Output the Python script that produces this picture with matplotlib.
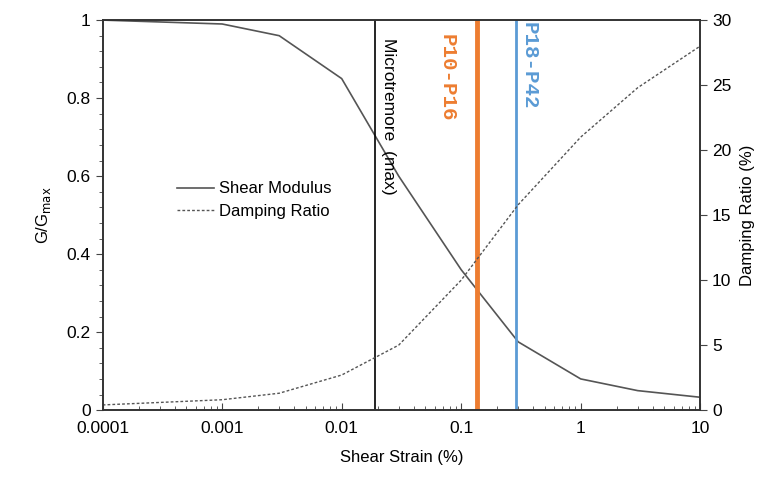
import matplotlib.pyplot as plt
from matplotlib.ticker import MultipleLocator, LogLocator, NullFormatter

plt.rcParams['font.family'] = ['Liberation Sans', 'DejaVu Sans']

strain = [0.0001, 0.001, 0.003, 0.01, 0.03, 0.1, 0.3, 1, 3, 10]
modulus = [1.0, 0.99, 0.96, 0.85, 0.60, 0.36, 0.175, 0.08, 0.05, 0.033]
damping = [0.4, 0.8, 1.3, 2.7, 5.0, 10.0, 15.8, 21.0, 24.8, 28.0]

micro_strain = 0.019
p10_strain = 0.135
p18_strain = 0.29

fig, ax = plt.subplots(figsize=(7.72, 4.9), dpi=100)
fig.subplots_adjust(left=0.133, right=0.907, top=0.959, bottom=0.163)
ax2 = ax.twinx()

l1, = ax.plot(strain, modulus, color='#555555', lw=1.2, label='Shear Modulus')
l2, = ax2.plot(strain, damping, color='#555555', lw=1.0, ls=(0, (2, 1.5)), label='Damping Ratio')

ax.axvline(micro_strain, color='black', lw=1.2)
ax.axvline(p10_strain, color='#ED7D31', lw=3.5)
ax.axvline(p18_strain, color='#5B9BD5', lw=2)

ax.text(micro_strain * 1.12, 0.955, 'Microtremore  (max)', rotation=-90, va='top', ha='left',
        fontsize=12.5)
ax.text(p10_strain * 0.56, 0.965, 'P10-P16', rotation=-90, va='top', ha='center',
        fontsize=15, color='#ED7D31', family='Liberation Mono', fontweight='bold')
ax.text(p18_strain * 1.27, 0.995, 'P18-P42', rotation=-90, va='top', ha='center',
        fontsize=15, color='#5B9BD5', family='Liberation Mono', fontweight='bold')

ax.set_xscale('log')
ax.set_xlim(0.0001, 10)
ax.set_ylim(0, 1)
ax2.set_ylim(0, 30)
ax.set_xticks([0.0001, 0.001, 0.01, 0.1, 1, 10])
ax.set_xticklabels(['0.0001', '0.001', '0.01', '0.1', '1', '10'])
ax.xaxis.set_minor_locator(LogLocator(base=10, subs=range(2, 10)))
ax.xaxis.set_minor_formatter(NullFormatter())
ax.set_yticks([0, 0.2, 0.4, 0.6, 0.8, 1])
ax.set_yticklabels(['0', '0.2', '0.4', '0.6', '0.8', '1'])
ax.yaxis.set_minor_locator(MultipleLocator(0.04))
ax2.set_yticks([0, 5, 10, 15, 20, 25, 30])

ax.tick_params(axis='x', which='both', direction='in', labelsize=12.5, color='#444444', pad=8)
ax.tick_params(axis='x', which='major', length=5)
ax.tick_params(axis='x', which='minor', length=3)
ax.tick_params(axis='y', which='major', direction='out', length=5, labelsize=12.5, color='#444444')
ax.tick_params(axis='y', which='minor', direction='out', length=3, color='#444444')
ax2.tick_params(axis='y', direction='out', length=5, labelsize=12.5, color='#444444')

for a in (ax, ax2):
    for s in a.spines.values():
        s.set_color('#333333')
        s.set_linewidth(1.2)

ax.set_xlabel('Shear Strain (%)', fontsize=12, labelpad=10)
ax.set_ylabel('G/G$_{\\mathrm{max}}$', fontsize=12, labelpad=10)
ax2.set_ylabel('Damping Ratio (%)', fontsize=12, labelpad=6)

ax.legend(handles=[l1, l2], loc='upper left', bbox_to_anchor=(0.1, 0.625), frameon=False,
          fontsize=12, handlelength=2.2, handletextpad=0.3, labelspacing=0.45)

plt.savefig('out.png', dpi=100)
